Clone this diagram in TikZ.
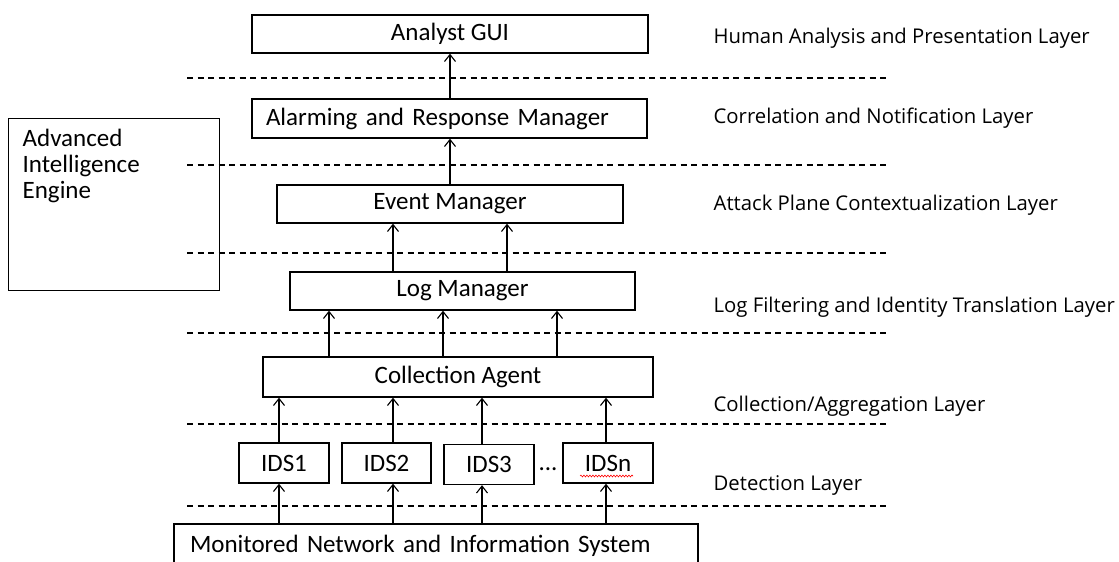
\documentclass[tikz,border=0pt]{standalone}
\usepackage{fontspec}
\setmainfont{Carlito}
\newfontfamily\labfont{Open Sans}
\usetikzlibrary{arrows.meta,decorations.pathmorphing,calc}
\begin{document}
\begin{tikzpicture}[x=1pt,y=-1pt,line width=1.3pt,
  box/.style={draw,rectangle,inner sep=0pt,font=\fontsize{25}{26}\selectfont},
  lab/.style={anchor=west,inner sep=0pt,font=\labfont\fontsize{20.3}{24}\selectfont},
  sep/.style={dashed,dash pattern=on 6pt off 4.5pt,line width=1.1pt},
  up/.style={-{Straight Barb[length=7pt,width=11pt,line width=1.1pt]},line width=1.2pt}]
\useasboundingbox (0,0) rectangle (1119,562);
% boxes
\node[box,minimum width=396,minimum height=38] (ana) at (450,34) {Analyst GUI};
\node[box,minimum width=395,minimum height=39,inner xsep=14pt,text width=367pt,align=left] (alarm) at (449.5,118.5) {Alarming and Response Manager};
\node[box,minimum width=346,minimum height=38] (event) at (450,204) {Event Manager};
\node[box,minimum width=345,minimum height=38] (log) at (462.5,291) {Log Manager};
\node[box,minimum width=390,minimum height=40] (coll) at (458,377) {Collection Agent};
\node[box,minimum width=90,minimum height=40] (ids1) at (284,463) {IDS1};
\node[box,minimum width=89,minimum height=40] (ids2) at (386.5,463) {IDS2};
\node[box,minimum width=90,minimum height=40] (ids3) at (489,464.5) {IDS3};
\node[box,minimum width=90,minimum height=40] (idsn) at (608,463) {IDSn};
\node[inner sep=0pt,font=\fontsize{25}{26}\selectfont] (dots) at (548,469) {...};
\node[box,minimum width=524,minimum height=44,inner xsep=16pt,text width=492pt,align=left] (mon) at (436,546) {Monitored Network and Information System};
\node[box,minimum width=211,minimum height=172,anchor=north west,inner xsep=14pt,inner ysep=9pt] (aie) at (8,118)
  {\parbox[t][152pt][t]{183pt}{\raggedright Advanced\\Intelligence\\Engine}};
% spell-check underline
\draw[red,line width=0.6pt,decorate,decoration={snake,amplitude=0.9pt,segment length=3pt}]
  ($(idsn.center)+(-28,13)$) -- ($(idsn.center)+(25,13)$);
% separators
\foreach \yy/\nm in {78/s1,165/s2,253/s3,333/s4,424/s5,506/s6}{
  \coordinate (\nm a) at (187,\yy); \coordinate (\nm b) at (890,\yy);
  \draw[sep] (\nm a) -- (\nm b);
}
% layer labels
\node[lab] (l1) at (713,38) {Human Analysis and Presentation Layer};
\node[lab] (l2) at (713,118) {Correlation and Notification Layer};
\node[lab] (l3) at (713,205) {Attack Plane Contextualization Layer};
\node[lab] (l4) at (713,307) {Log Filtering and Identity Translation Layer};
\node[lab] (l5) at (713,406) {Collection/Aggregation Layer};
\node[lab] (l6) at (713,485) {Detection Layer};
% arrow columns
\foreach \nm/\xx in {c0/450,e1/393,e2/507,g1/329,g2/443,g3/557,d1/279,d2/393,d3/482,d4/606}{
  \coordinate (\nm) at (\xx,0);
}
\draw[up] (alarm.north -| c0) -- (ana.south -| c0);
\draw[up] (event.north -| c0) -- (alarm.south -| c0);
\draw[up] (log.north -| e1) -- (event.south -| e1);
\draw[up] (log.north -| e2) -- (event.south -| e2);
\draw[up] (coll.north -| g1) -- (log.south -| g1);
\draw[up] (coll.north -| g2) -- (log.south -| g2);
\draw[up] (coll.north -| g3) -- (log.south -| g3);
\draw[up] (ids1.north -| d1) -- (coll.south -| d1);
\draw[up] (ids2.north -| d2) -- (coll.south -| d2);
\draw[up] (ids3.north -| d3) -- (coll.south -| d3);
\draw[up] (idsn.north -| d4) -- (coll.south -| d4);
\draw[up] (mon.north -| d1) -- (ids1.south -| d1);
\draw[up] (mon.north -| d2) -- (ids2.south -| d2);
\draw[up] (mon.north -| d3) -- (ids3.south -| d3);
\draw[up] (mon.north -| d4) -- (idsn.south -| d4);
\end{tikzpicture}
\end{document}
